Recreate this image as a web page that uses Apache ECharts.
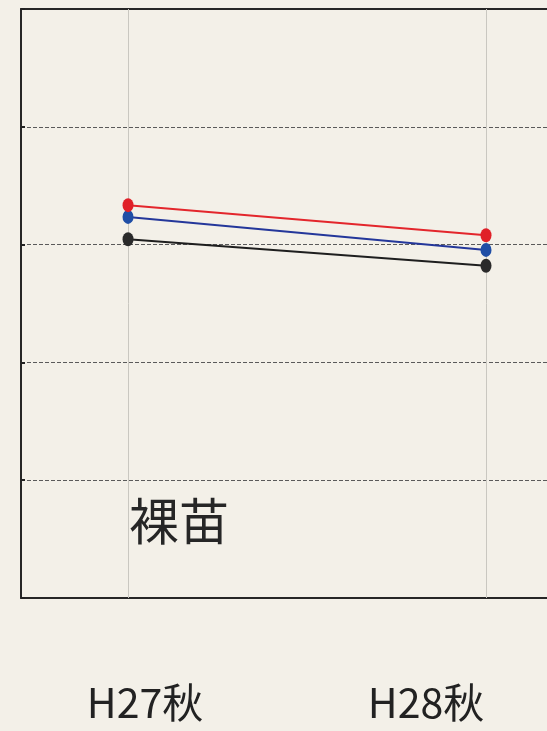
<!DOCTYPE html>
<html>
<head>
<meta charset="utf-8">
<script src="https://cdn.jsdelivr.net/npm/echarts@6/dist/echarts.min.js"></script>
<style>
  html, body { margin: 0; padding: 0; background: #f3f0e8; }
  #chart { width: 547px; height: 731px; }
</style>
</head>
<body>
<div id="chart"></div>
<script>
// Survey periods and per-series values (two autumn surveys)
const periods = ['H27秋', 'H28秋'];
const redValues = [66.7, 61.6];
const blueValues = [64.7, 59.1];
const blackValues = [60.9, 56.4];
const panelTitle = '裸苗';

const FONT = '"Noto Sans CJK JP", "Noto Sans", sans-serif';
const FRAME = { show: true, onZero: false, lineStyle: { color: '#262626', width: 2 } };

function toPoints(values) {
  return values.map((v, i) => [i, v]);
}

function lineSeries(name, values, lineColor, markColor, z) {
  return {
    name: name,
    type: 'line',
    data: toPoints(values),
    z: z,
    symbol: 'circle',
    symbolSize: [11, 14],
    lineStyle: { color: lineColor, width: 2 },
    itemStyle: { color: markColor },
    emphasis: { disabled: true },
    animation: false
  };
}

const chart = echarts.init(document.getElementById('chart'), null, { renderer: 'canvas' });

const blackSeries = lineSeries('black', blackValues, '#1e1e1e', '#2a2a2a', 3);
// vertical guides at each survey period
blackSeries.markLine = {
  silent: true,
  symbol: 'none',
  label: { show: false },
  lineStyle: { color: '#c9c7c0', width: 1, type: 'solid' },
  data: periods.map((p, i) => ({ xAxis: i })),
  z: 1,
  animation: false
};

// the plot runs off the right edge, so the frame is drawn by the axis lines
chart.setOption({
  backgroundColor: '#f3f0e8',
  animation: false,
  title: {
    text: panelTitle,
    left: 124,
    top: 491,
    textStyle: { fontFamily: FONT, fontSize: 50, fontWeight: 'normal', color: '#262626' }
  },
  grid: { left: 21, top: 9, right: 0, bottom: 133, show: false },
  xAxis: [
    {
      type: 'value',
      min: -0.299,
      max: 1.1704,
      axisLine: FRAME,
      splitLine: { show: false },
      axisTick: { show: false },
      axisLabel: {
        customValues: [0, 1],
        margin: 84,
        formatter: v => (v === 0 ? '{a|' + periods[0] + '}' : '{b|' + periods[1] + '}'),
        rich: {
          a: { fontFamily: FONT, fontSize: 41, color: '#222', padding: [0, 0, 0, 34] },
          b: { fontFamily: FONT, fontSize: 41, color: '#222', padding: [0, 120, 0, 0] }
        }
      }
    },
    {
      type: 'value',
      position: 'top',
      min: -0.299,
      max: 1.1704,
      axisLine: FRAME,
      splitLine: { show: false },
      axisTick: { show: false },
      axisLabel: { show: false }
    }
  ],
  yAxis: {
    type: 'value',
    position: 'left',
    min: 0,
    max: 100,
    interval: 20,
    axisLine: FRAME,
    axisLabel: { show: false },
    axisTick: { show: true, inside: true, length: 4, lineStyle: { color: '#222', width: 2 } },
    splitLine: { show: true, lineStyle: { color: '#5a5a5a', width: 1, type: [4, 2] } }
  },
  series: [
    blackSeries,
    lineSeries('blue', blueValues, '#24379a', '#1f4ea6', 4),
    lineSeries('red', redValues, '#e3262c', '#e02028', 5)
  ]
});
</script>
</body>
</html>
